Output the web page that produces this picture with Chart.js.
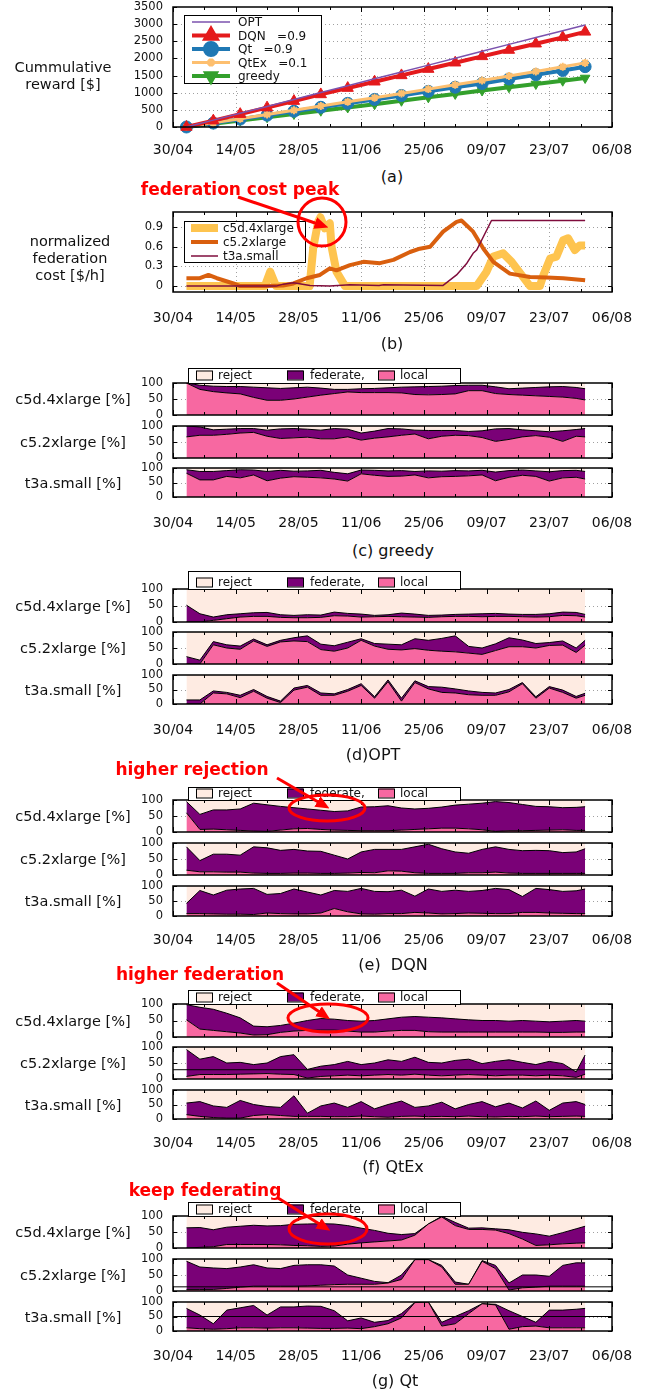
<!DOCTYPE html>
<html>
<head>
<meta charset="utf-8">
<script src="https://cdn.jsdelivr.net/npm/chart.js@4.4.1/dist/chart.umd.min.js"></script>
<style>
  body { margin: 0; background: #fff; }
  #fig { position: relative; width: 660px; height: 1391px; overflow: hidden; font-family: "DejaVu Sans", sans-serif; color: #111; }
  #fig canvas { position: absolute; left: 0; }
  .lbl { position: absolute; transform: translate(-50%, -50%); white-space: pre; text-align: center; line-height: 17px; font-size: 14.5px; }
  .cap { position: absolute; transform: translate(-50%, -50%); white-space: pre; font-size: 16px; }
  .note { position: absolute; transform: translate(-50%, -50%); white-space: nowrap; color: #f00; font-weight: bold; font-size: 17px; }
  svg { position: absolute; left: 0; top: 0; pointer-events: none; }
</style>
</head>
<body>
<div id="fig"></div>
<script>
const FONT = '"DejaVu Sans", sans-serif';
const dayTicks = ['30/04', '14/05', '28/05', '11/06', '25/06', '09/07', '23/07', '06/08'];

// (a) cumulative reward, read every ~6 days
const rewardDays   = [3, 9, 15, 21, 27, 33, 39, 45, 51, 57, 63, 69, 75, 81, 87, 92];
const optReward    = [0, 200, 400, 600, 805, 1005, 1205, 1405, 1605, 1805, 2005, 2210, 2410, 2610, 2810, 2975];
const dqnReward    = [0, 185, 375, 565, 755, 950, 1135, 1320, 1505, 1690, 1875, 2060, 2245, 2430, 2615, 2775];
const qtReward     = [0, 115, 230, 345, 460, 575, 690, 805, 920, 1040, 1160, 1270, 1400, 1525, 1650, 1760];
const qtexReward   = [0, 120, 240, 365, 490, 610, 735, 855, 980, 1105, 1230, 1355, 1490, 1620, 1755, 1870];
const greedyReward = [0, 95, 190, 285, 380, 475, 570, 665, 765, 865, 965, 1065, 1160, 1255, 1350, 1430];

// (b) normalized federation cost
const c5dCostDays = [3, 20.5, 21.7, 23, 30.5, 31.3, 32.4, 32.9, 33.9, 35, 35.4, 36.5, 38.4, 67.8, 70, 71.5, 73.7, 75.6, 77.8, 79.7, 81.9, 82.7, 84.2, 85.6, 87.1, 88.2, 89.7, 90.8, 92];
const c5dCost     = [0, 0, 0.22, 0, 0, 0.58, 0.98, 1.05, 0.88, 0.96, 0.6, 0.22, 0, 0, 0.22, 0.45, 0.5, 0.37, 0.17, 0, 0, 0.17, 0.42, 0.45, 0.7, 0.73, 0.55, 0.62, 0.62];
const c52CostDays = [3, 6, 7.9, 9.8, 13.5, 15, 21, 24.6, 26.9, 29.8, 32.8, 35, 36.5, 39.5, 42.5, 46.2, 49.2, 52.9, 55.1, 57.4, 60.3, 63.3, 64.4, 67, 69.3, 71.5, 75.2, 79.7, 83.4, 87.1, 92];
const c52Cost     = [0.12, 0.12, 0.17, 0.12, 0.04, 0, 0, 0.01, 0.04, 0.12, 0.17, 0.27, 0.24, 0.32, 0.37, 0.35, 0.4, 0.52, 0.57, 0.6, 0.83, 0.98, 1.0, 0.83, 0.57, 0.37, 0.19, 0.14, 0.13, 0.12, 0.09];
const t3aCostDays = [3, 23, 24.6, 26.9, 30.6, 35, 39.5, 46, 47, 60.3, 63.3, 65.6, 67, 67.8, 71.1, 92];
const t3aCost     = [0, 0, 0.03, 0.05, 0.01, 0, 0.02, 0.01, 0.02, 0.01, 0.17, 0.35, 0.5, 0.55, 1.0, 1.0];

// (c)-(g) request shares [%]: top of "local" and top of "federate" (reject fills up to 100)
const shareDays = [3, 6, 9, 12, 15, 18, 21, 24, 27, 30, 33, 36, 39, 42, 45, 48, 51, 54, 57, 60, 63, 66, 69, 72, 75, 78, 81, 84, 87, 90, 92];

const greedyC5dLocal = [100, 80, 73, 69, 66, 55, 46, 46, 50, 56, 62, 67, 72, 70, 70, 70, 69, 64, 63, 64, 66, 76, 76, 67, 64, 62, 60, 58, 56, 52, 47];
const greedyC5dFed   = [100, 93, 90, 89, 89, 87, 85, 83, 85, 87, 84, 80, 80, 82, 83, 85, 87, 88, 89, 90, 92, 93, 93, 88, 82, 84, 86, 88, 89, 86, 82];
const greedyC52Local = [66, 71, 71, 74, 78, 80, 68, 61, 63, 65, 60, 60, 66, 56, 62, 66, 71, 75, 60, 68, 71, 70, 64, 52, 58, 66, 70, 65, 52, 68, 66];
const greedyC52Fed   = [100, 97, 88, 90, 92, 92, 87, 91, 92, 90, 87, 92, 90, 78, 84, 92, 91, 87, 86, 86, 86, 83, 85, 91, 92, 88, 85, 82, 85, 89, 92];
const greedyT3aLocal = [82, 59, 59, 71, 66, 76, 56, 65, 70, 68, 66, 62, 55, 80, 75, 71, 72, 76, 66, 70, 71, 73, 76, 56, 68, 75, 71, 55, 66, 68, 62];
const greedyT3aFed   = [94, 88, 88, 91, 94, 93, 88, 92, 89, 90, 92, 85, 80, 93, 92, 90, 91, 88, 90, 89, 91, 90, 92, 86, 91, 93, 90, 87, 91, 92, 88];

const optC5dLocal = [0, 0, 5, 10, 15, 17, 17, 14, 13, 13, 14, 19, 18, 15, 16, 17, 16, 15, 14, 16, 17, 17, 16, 17, 17, 16, 15, 16, 20, 19, 15];
const optC5dFed   = [51, 25, 15, 22, 25, 28, 29, 22, 20, 22, 21, 30, 26, 24, 20, 22, 27, 24, 20, 21, 23, 24, 25, 26, 24, 23, 23, 25, 30, 29, 23];
const optC52Local = [0, 0, 60, 50, 46, 72, 55, 69, 72, 70, 45, 40, 50, 74, 56, 46, 44, 48, 43, 40, 38, 34, 30, 42, 54, 54, 50, 58, 59, 36, 59];
const optC52Fed   = [23, 12, 70, 60, 56, 78, 60, 74, 82, 88, 62, 57, 68, 79, 64, 62, 60, 79, 74, 80, 88, 55, 50, 63, 82, 75, 64, 67, 72, 50, 74];
const optT3aLocal = [0, 0, 38, 35, 22, 44, 20, 5, 48, 58, 30, 30, 44, 64, 20, 77, 10, 74, 52, 40, 38, 32, 30, 30, 42, 70, 20, 55, 40, 20, 30];
const optT3aFed   = [14, 14, 45, 40, 30, 50, 26, 10, 55, 64, 38, 35, 50, 70, 25, 83, 20, 80, 60, 58, 52, 45, 40, 38, 50, 74, 25, 60, 48, 26, 37];

const dqnC5dLocal = [60, 8, 9, 7, 5, 3, 2, 6, 10, 11, 8, 6, 5, 4, 4, 4, 6, 8, 10, 12, 12, 10, 7, 2, 4, 4, 5, 6, 7, 5, 5];
const dqnC5dFed   = [95, 55, 69, 69, 72, 90, 85, 80, 76, 72, 68, 64, 66, 78, 79, 82, 75, 72, 74, 78, 84, 87, 90, 95, 92, 86, 80, 79, 76, 77, 79];
const dqnC52Local = [15, 10, 10, 9, 9, 6, 5, 5, 6, 6, 5, 5, 6, 8, 7, 13, 12, 7, 5, 5, 5, 7, 7, 9, 6, 5, 5, 5, 5, 5, 5];
const dqnC52Fed   = [88, 45, 65, 65, 62, 88, 85, 77, 80, 75, 74, 62, 50, 72, 80, 80, 80, 88, 96, 82, 72, 68, 80, 88, 80, 76, 77, 76, 70, 72, 82];
const dqnT3aLocal = [8, 8, 7, 6, 6, 5, 10, 8, 7, 7, 10, 25, 14, 7, 6, 8, 8, 12, 10, 7, 8, 10, 9, 8, 8, 12, 12, 10, 9, 8, 8];
const dqnT3aFed   = [42, 85, 70, 86, 90, 92, 72, 75, 90, 80, 70, 85, 82, 92, 82, 81, 86, 66, 90, 82, 86, 82, 85, 92, 88, 65, 92, 88, 82, 84, 90];

const qtexC5dLocal = [52, 24, 20, 16, 12, 6, 7, 14, 18, 20, 21, 21, 18, 15, 15, 18, 20, 20, 16, 15, 15, 15, 15, 15, 15, 15, 15, 14, 14, 15, 15];
const qtexC5dFed   = [98, 90, 84, 72, 58, 33, 31, 35, 42, 50, 56, 54, 50, 48, 50, 55, 60, 62, 60, 58, 55, 52, 50, 50, 48, 50, 48, 46, 48, 50, 48];
const qtexC52Local = [8, 14, 14, 14, 15, 16, 17, 15, 14, 3, 8, 10, 12, 10, 12, 14, 12, 15, 12, 10, 12, 14, 12, 10, 12, 12, 10, 12, 10, 5, 15];
const qtexC52Fed   = [92, 62, 70, 50, 52, 45, 50, 70, 76, 30, 40, 45, 55, 45, 50, 60, 55, 68, 52, 50, 58, 62, 48, 55, 60, 52, 45, 55, 48, 22, 75];
const qtexT3aLocal = [15, 9, 5, 3, 3, 12, 15, 12, 9, 9, 9, 8, 8, 10, 8, 6, 9, 10, 8, 9, 8, 10, 8, 7, 9, 8, 10, 8, 9, 10, 9];
const qtexT3aFed   = [55, 60, 45, 40, 64, 50, 43, 40, 80, 20, 45, 55, 40, 60, 35, 50, 62, 40, 45, 58, 35, 50, 60, 42, 55, 38, 62, 30, 55, 60, 50];

const qtC5dLocal = [0, 2, 4, 11, 11, 11, 11, 10, 8, 7, 5, 6, 12, 16, 19, 22, 25, 40, 75, 97, 70, 58, 58, 56, 45, 28, 8, 10, 13, 15, 16];
const qtC5dFed   = [63, 64, 57, 65, 68, 71, 69, 70, 74, 75, 76, 75, 70, 62, 55, 46, 42, 45, 75, 99, 80, 62, 63, 60, 57, 49, 44, 37, 48, 60, 68];
const qtC52Local = [5, 5, 5, 8, 12, 15, 15, 15, 15, 16, 18, 20, 21, 21, 21, 25, 36, 98, 98, 75, 21, 21, 93, 70, 3, 10, 12, 15, 15, 15, 15];
const qtC52Fed   = [93, 75, 72, 70, 75, 82, 72, 70, 80, 82, 82, 78, 50, 40, 30, 26, 50, 98, 98, 80, 28, 21, 95, 80, 25, 50, 50, 46, 80, 88, 88];
const qtT3aLocal = [11, 8, 6, 8, 11, 11, 10, 11, 11, 10, 9, 9, 10, 8, 15, 25, 45, 98, 100, 17, 25, 60, 94, 90, 6, 15, 17, 11, 11, 11, 11];
const qtT3aFed   = [78, 55, 25, 72, 80, 88, 55, 83, 83, 86, 85, 70, 35, 45, 30, 36, 60, 99, 100, 30, 50, 70, 94, 92, 70, 50, 30, 72, 72, 75, 78];

// stray horizontal lines in the original subplots
const qtexC52Ref = [29];
const qtC52Ref = [13];
const qtT3aRef = [50];

const PLOT_LEFT = 173, PLOT_RIGHT = 612;
const MIN_PAD = 19; // room Chart.js wants for the half-height of the edge y labels + their padding
const PINK = '#f768a1', PURPLE = '#7a0177', PEACH = '#feebe2';

Chart.defaults.font.family = FONT;
Chart.defaults.color = '#111';

const fig = document.getElementById('fig');

function addCanvas(top, height) {
  const c = document.createElement('canvas');
  c.width = 660; c.height = height;
  c.style.top = top + 'px';
  c.style.width = '660px'; c.style.height = height + 'px';
  fig.appendChild(c);
  return c;
}

function addText(cls, text, x, y) {
  const d = document.createElement('div');
  d.className = cls;
  d.textContent = text;
  d.style.left = x + 'px'; d.style.top = y + 'px';
  fig.appendChild(d);
}

const xy = (xs, ys) => xs.map((x, i) => ({ x: x, y: ys[i] }));

function baseOptions(padTop, padBottom, yMin, yMax, yTicks, yLabels, tickGap) {
  const showX = tickGap != null;
  return {
    responsive: false, animation: false, devicePixelRatio: 1, events: [],
    layout: { padding: { left: 0, right: 660 - PLOT_RIGHT, top: padTop, bottom: padBottom } },
    plugins: { legend: { display: false }, tooltip: { enabled: false } },
    scales: {
      x: {
        type: 'linear', min: 0, max: 98,
        grid: { display: false, drawTicks: false }, border: { display: false },
        afterBuildTicks: s => { s.ticks = dayTicks.map((_, i) => ({ value: i * 14 })); },
        ticks: { display: showX, autoSkip: false, maxRotation: 0, padding: showX ? tickGap : 0,
                 font: { size: 14 }, color: '#111', callback: (v, i) => dayTicks[i] },
        afterFit: s => { s.height = showX ? tickGap + 20 : 0; }
      },
      y: {
        type: 'linear', min: yMin, max: yMax,
        grid: { display: false, drawTicks: false }, border: { display: false },
        afterBuildTicks: s => { s.ticks = yTicks.map(v => ({ value: v })); },
        ticks: { autoSkip: false, padding: 10, font: { size: 11.5 }, color: '#111', callback: (v, i) => yLabels[i] },
        afterFit: s => { s.width = PLOT_LEFT; }
      }
    }
  };
}

// dotted grid below the data, black frame with inward ticks above it
function framePlugin(yGrid, yTicks) {
  return {
    id: 'frame',
    beforeDatasetsDraw(chart) {
      const { ctx, chartArea: a, scales: { x, y } } = chart;
      ctx.save();
      ctx.strokeStyle = '#a0a0a0'; ctx.lineWidth = 1; ctx.setLineDash([1, 3]);
      ctx.beginPath();
      for (let i = 1; i < dayTicks.length - 1; i++) {
        const px = Math.round(x.getPixelForValue(i * 14)) + 0.5;
        ctx.moveTo(px, a.top); ctx.lineTo(px, a.bottom);
      }
      yGrid.forEach(v => {
        const py = Math.round(y.getPixelForValue(v)) + 0.5;
        ctx.moveTo(a.left, py); ctx.lineTo(a.right, py);
      });
      ctx.stroke();
      ctx.restore();
    },
    afterDatasetsDraw(chart) {
      const { ctx, chartArea: a, scales: { x, y } } = chart;
      ctx.save();
      ctx.strokeStyle = '#000'; ctx.lineWidth = 1.5;
      ctx.strokeRect(a.left, a.top, a.right - a.left, a.bottom - a.top);
      ctx.lineWidth = 1;
      ctx.beginPath();
      for (let d = 0; d <= 98; d += 7) {
        const px = Math.round(x.getPixelForValue(d)) + 0.5;
        const len = d % 14 === 0 ? 5 : 3;
        ctx.moveTo(px, a.bottom); ctx.lineTo(px, a.bottom - len);
        ctx.moveTo(px, a.top); ctx.lineTo(px, a.top + len);
      }
      yTicks.forEach(v => {
        const py = Math.round(y.getPixelForValue(v)) + 0.5;
        ctx.moveTo(a.left, py); ctx.lineTo(a.left + 4, py);
        ctx.moveTo(a.right, py); ctx.lineTo(a.right - 4, py);
      });
      ctx.stroke();
      ctx.restore();
    }
  };
}

// ---------- (a) ----------
(function () {
  const top = 7, bottom = 127, tickCenter = 150, padTop = MIN_PAD, padBottom = 4;
  const tickGap = tickCenter - bottom - 8;
  const canvasTop = top - padTop;
  const canvas = addCanvas(canvasTop, padTop + (bottom - top) + tickGap + 20 + padBottom);
  const yTicks = [0, 500, 1000, 1500, 2000, 2500, 3000, 3500];
  const series = [
    { label: 'OPT', ys: optReward, color: '#7b52ae', width: 1.5, style: false, r: 0, rot: 0, order: 0 },
    { label: 'DQN   =0.9', ys: dqnReward, color: '#e41a1c', width: 4, style: 'triangle', r: 6.5, rot: 0, order: 1 },
    { label: 'Qt   =0.9', ys: qtReward, color: '#1f78b4', width: 4, style: 'circle', r: 6, rot: 0, order: 3 },
    { label: 'QtEx   =0.1', ys: qtexReward, color: '#fdbf6f', width: 3, style: 'star', r: 4, rot: 0, order: 2 },
    { label: 'greedy', ys: greedyReward, color: '#33a02c', width: 4, style: 'triangle', r: 5.5, rot: 180, order: 4 }
  ];
  const legend = {
    id: 'legendA',
    afterDraw(chart) {
      const ctx = chart.ctx;
      ctx.save();
      ctx.translate(0, -canvasTop);
      ctx.fillStyle = '#fff'; ctx.fillRect(184, 15, 137, 68);
      ctx.strokeStyle = '#000'; ctx.lineWidth = 1; ctx.strokeRect(184.5, 15.5, 137, 68);
      ctx.font = '12px ' + FONT; ctx.textBaseline = 'middle';
      const rowY = [22, 35.5, 49, 62.5, 76];
      series.forEach((s, i) => {
        const yy = rowY[i];
        ctx.strokeStyle = s.color; ctx.lineWidth = s.width;
        ctx.beginPath(); ctx.moveTo(192, yy); ctx.lineTo(230, yy); ctx.stroke();
        if (s.style) {
          ctx.fillStyle = s.color; ctx.strokeStyle = s.color;
          Chart.helpers.drawPoint(ctx, { pointStyle: s.style, radius: s.r, rotation: s.rot, borderWidth: s.style === 'star' ? 2 : 1 }, 211, yy);
        }
        ctx.fillStyle = '#111';
        ctx.fillText(s.label, 238, yy + 1);
      });
      ctx.restore();
    }
  };
  new Chart(canvas, {
    type: 'line',
    data: {
      datasets: series.map(s => ({
        label: s.label, data: xy(rewardDays, s.ys), order: s.order,
        borderColor: s.color, backgroundColor: s.color, borderWidth: s.width,
        pointStyle: s.style || 'circle', pointRadius: s.r, pointRotation: s.rot,
        pointBorderWidth: s.style === 'star' ? 2 : 1, pointBorderColor: s.color,
        clip: false, fill: false
      }))
    },
    options: baseOptions(padTop, padBottom, 0, 3500, yTicks, yTicks.map(String), tickGap),
    plugins: [framePlugin(yTicks.slice(1, -1), yTicks), legend]
  });
  addText('lbl', 'Cummulative\nreward [$]', 63, 76);
  addText('cap', '(a)', 392, 176);
})();

// ---------- (b) ----------
(function () {
  const top = 212, bottom = 292, tickCenter = 318, padTop = MIN_PAD, padBottom = 4;
  const tickGap = tickCenter - bottom - 8;
  const canvasTop = top - padTop;
  const canvas = addCanvas(canvasTop, padTop + (bottom - top) + tickGap + 20 + padBottom);
  const yTicks = [0, 0.3, 0.6, 0.9];
  const series = [
    { label: 'c5d.4xlarge', xs: c5dCostDays, ys: c5dCost, color: '#fec44f', width: 8, order: 2 },
    { label: 'c5.2xlarge', xs: c52CostDays, ys: c52Cost, color: '#d95f0e', width: 4, order: 1 },
    { label: 't3a.small', xs: t3aCostDays, ys: t3aCost, color: '#7f0c3c', width: 1.5, order: 0 }
  ];
  const legend = {
    id: 'legendB',
    afterDraw(chart) {
      const ctx = chart.ctx;
      ctx.save();
      ctx.translate(0, -canvasTop);
      ctx.fillStyle = '#fff'; ctx.fillRect(184, 221, 121, 41);
      ctx.strokeStyle = '#000'; ctx.lineWidth = 1; ctx.strokeRect(184.5, 221.5, 121, 41);
      ctx.font = '12px ' + FONT; ctx.textBaseline = 'middle';
      const rowY = [228, 242, 256];
      series.forEach((s, i) => {
        ctx.strokeStyle = s.color; ctx.lineWidth = s.width;
        ctx.beginPath(); ctx.moveTo(191, rowY[i]); ctx.lineTo(218, rowY[i]); ctx.stroke();
        ctx.fillStyle = '#111';
        ctx.fillText(s.label, 223, rowY[i] + 1);
      });
      ctx.restore();
    }
  };
  new Chart(canvas, {
    type: 'line',
    data: {
      datasets: series.map(s => ({
        label: s.label, data: xy(s.xs, s.ys), order: s.order,
        borderColor: s.color, borderWidth: s.width, borderJoinStyle: 'round',
        pointRadius: 0, fill: false
      }))
    },
    options: baseOptions(padTop, padBottom, -0.09, 1.13, yTicks, ['0', '0.3', '0.6', '0.9'], tickGap),
    plugins: [framePlugin(yTicks, yTicks), legend]
  });
  addText('lbl', 'normalized\nfederation\ncost [$/h]', 70, 258);
  addText('cap', '(b)', 392, 343);
})();

// ---------- (c)-(g) ----------
const sharePanels = [
  { caption: '(c) greedy', rows: [[greedyC5dLocal, greedyC5dFed, []], [greedyC52Local, greedyC52Fed, []], [greedyT3aLocal, greedyT3aFed, []]] },
  { caption: '(d)OPT', rows: [[optC5dLocal, optC5dFed, []], [optC52Local, optC52Fed, []], [optT3aLocal, optT3aFed, []]] },
  { caption: '(e)  DQN', rows: [[dqnC5dLocal, dqnC5dFed, []], [dqnC52Local, dqnC52Fed, []], [dqnT3aLocal, dqnT3aFed, []]] },
  { caption: '(f) QtEx', rows: [[qtexC5dLocal, qtexC5dFed, []], [qtexC52Local, qtexC52Fed, qtexC52Ref], [qtexT3aLocal, qtexT3aFed, []]] },
  { caption: '(g) Qt', rows: [[qtC5dLocal, qtC5dFed, []], [qtC52Local, qtC52Fed, qtC52Ref], [qtT3aLocal, qtT3aFed, qtT3aRef]] }
];
const rowTitles = ['c5d.4xlarge [%]', 'c5.2xlarge [%]', 't3a.small [%]'];

const shareLayout = [
  { legendTop: 368, legendText: 375, rows: [[383, 415], [426, 458], [468, 497]], tickCenter: 523, cap: [393, 550] },
  { legendTop: 571, legendText: 582, rows: [[589, 622], [632, 664], [675, 704]], tickCenter: 730, cap: [373, 754] },
  { legendTop: 787, legendText: 793, rows: [[800, 832], [843, 875], [886, 916]], tickCenter: 940, cap: [393, 964] },
  { legendTop: 990, legendText: 997, rows: [[1004, 1037], [1047, 1079], [1090, 1119]], tickCenter: 1143, cap: [393, 1166] },
  { legendTop: 1202, legendText: 1209, rows: [[1216, 1248], [1259, 1291], [1302, 1331]], tickCenter: 1356, cap: [395, 1380] }
];

function shareLegend(canvasTop, boxTop, boxBottom, textY) {
  return {
    id: 'shareLegend',
    afterDraw(chart) {
      const ctx = chart.ctx;
      ctx.save();
      ctx.translate(0, -canvasTop);
      ctx.fillStyle = '#fff'; ctx.fillRect(188, boxTop, 272, boxBottom - boxTop);
      ctx.strokeStyle = '#000'; ctx.lineWidth = 1; ctx.strokeRect(188.5, boxTop + 0.5, 272, boxBottom - boxTop);
      ctx.font = '12px ' + FONT; ctx.textBaseline = 'middle';
      [['reject', PEACH, 196, 218], ['federate,', PURPLE, 287, 310], ['local', PINK, 378, 400]].forEach(([t, c, sx, tx]) => {
        ctx.fillStyle = c; ctx.fillRect(sx, textY - 4.5, 16, 9);
        ctx.strokeRect(sx + 0.5, textY - 4, 16, 9);
        ctx.fillStyle = '#111'; ctx.fillText(t, tx, textY + 1);
      });
      ctx.restore();
    }
  };
}

sharePanels.forEach((panel, p) => {
  const lay = shareLayout[p];
  panel.rows.forEach(([local, fed, refs], r) => {
    const [top, bottom] = lay.rows[r];
    const first = r === 0, last = r === 2;
    const padTop = first ? Math.max(MIN_PAD, top - lay.legendTop + 2) : MIN_PAD;
    const tickGap = last ? lay.tickCenter - bottom - 8 : null;
    const xh = last ? tickGap + 20 : 0;
    const padBottom = last ? 4 : MIN_PAD;
    const canvasTop = top - padTop;
    const canvas = addCanvas(canvasTop, padTop + (bottom - top) + xh + padBottom);
    const datasets = [
      { data: xy(shareDays, local), fill: 'origin', backgroundColor: PINK, borderColor: '#000', borderWidth: 1, pointRadius: 0 },
      { data: xy(shareDays, fed), fill: '-1', backgroundColor: PURPLE, borderColor: '#000', borderWidth: 1, pointRadius: 0 },
      { data: xy(shareDays, fed), fill: { value: 100 }, backgroundColor: PEACH, borderWidth: 0, borderColor: 'rgba(0,0,0,0)', pointRadius: 0 }
    ];
    refs.forEach(v => datasets.push({ data: [{ x: 0, y: v }, { x: 98, y: v }], borderColor: '#000', borderWidth: 1, pointRadius: 0, fill: false, order: -1 }));
    const plugins = [framePlugin([50], [0, 50, 100])];
    if (first) plugins.push(shareLegend(canvasTop, lay.legendTop, top, lay.legendText));
    new Chart(canvas, {
      type: 'line',
      data: { datasets: datasets },
      options: baseOptions(padTop, padBottom, 0, 100, [0, 50, 100], ['0', '50', '100'], tickGap),
      plugins: plugins
    });
    addText('lbl', rowTitles[r], 73, (top + bottom) / 2);
  });
  addText('cap', panel.caption, lay.cap[0], lay.cap[1]);
});

// ---------- red call-outs ----------
const callouts = [
  { text: 'federation cost peak', at: [240, 189], arrow: [238, 197, 318, 224], ring: [322, 222, 24, 24] },
  { text: 'higher rejection', at: [192, 769], arrow: [277, 778, 320, 803], ring: [327, 808, 38, 13] },
  { text: 'higher federation', at: [200, 974], arrow: [277, 983, 321, 1013], ring: [328, 1018, 40, 14] },
  { text: 'keep federating', at: [205, 1190], arrow: [278, 1198, 321, 1225], ring: [328, 1229, 39, 15] }
];
const NS = 'http://www.w3.org/2000/svg';
const svg = document.createElementNS(NS, 'svg');
svg.setAttribute('width', 660); svg.setAttribute('height', 1391);
svg.innerHTML = '<defs><marker id="head" markerUnits="userSpaceOnUse" markerWidth="14" markerHeight="12" refX="3" refY="6" orient="auto">' +
  '<path d="M0,0 L14,6 L0,12 z" fill="#f00"/></marker></defs>';
callouts.forEach(c => {
  const [x1, y1, x2, y2] = c.arrow;
  const line = document.createElementNS(NS, 'line');
  line.setAttribute('x1', x1); line.setAttribute('y1', y1); line.setAttribute('x2', x2); line.setAttribute('y2', y2);
  line.setAttribute('stroke', '#f00'); line.setAttribute('stroke-width', 3); line.setAttribute('marker-end', 'url(#head)');
  svg.appendChild(line);
  const [cx, cy, rx, ry] = c.ring;
  const ring = document.createElementNS(NS, 'ellipse');
  ring.setAttribute('cx', cx); ring.setAttribute('cy', cy); ring.setAttribute('rx', rx); ring.setAttribute('ry', ry);
  ring.setAttribute('fill', 'none'); ring.setAttribute('stroke', '#f00'); ring.setAttribute('stroke-width', 3);
  svg.appendChild(ring);
});
fig.appendChild(svg);
callouts.forEach(c => addText('note', c.text, c.at[0], c.at[1]));
</script>
</body>
</html>
